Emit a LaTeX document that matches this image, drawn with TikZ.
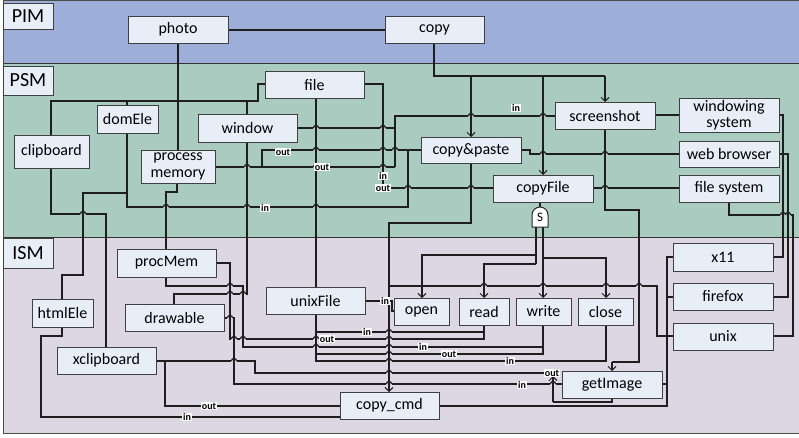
\documentclass[tikz,border=0pt]{standalone}
\usepackage{fontspec}
\setmainfont{Carlito}
\usetikzlibrary{arrows.meta}
\definecolor{pimc}{HTML}{9DAED8}
\definecolor{psmc}{HTML}{A9CBC0}
\definecolor{ismc}{HTML}{DDD6E3}
\definecolor{boxc}{HTML}{E8EEF8}
\definecolor{wirec}{HTML}{1E1E1E}
\newcommand\hpbase[3]{\fill[#3] (#1-2.9,#2-0.9) rectangle (#1+2.9,#2+0.9);
  \draw[wire] (#1,#2-2.2) -- (#1,#2+2.2);
  \draw[wire] (#1-2.6,#2) arc[start angle=180,end angle=360,radius=2.6];}
\newcommand\hp[2]{\hpbase{#1}{#2}{psmc}}
\newcommand\hpi[2]{\hpbase{#1}{#2}{ismc}}
\begin{document}
\begin{tikzpicture}[x=1pt,y=-1pt,
  box/.style={draw=black!75,fill=boxc,line width=0.9pt,inner sep=0pt,font=\fontsize{16}{16.5}\selectfont,align=center},
  band/.style={draw=black!75,fill=boxc,line width=0.9pt,inner sep=0pt,font=\fontsize{20}{20}\selectfont},
  wire/.style={draw=wirec,line width=1.2pt},
  thick wire/.style={draw=wirec,line width=2.1pt},
  arr/.style={-{Straight Barb[length=4pt,width=8pt,line width=1pt]}},
  lab/.style={fill=white,inner sep=0.8pt,font=\bfseries\fontsize{10}{10}\selectfont}]
\useasboundingbox (0,0) rectangle (799,437);
% bands
\fill[pimc] (3,0) rectangle (799,63);
\fill[psmc] (3,63) rectangle (799,237);
\fill[ismc] (3,237) rectangle (799,433);
\draw[black!80,line width=1pt] (3,63) -- (799,63) (3,237) -- (799,237);
\draw[black!70,line width=1pt] (3,0.5) -- (799,0.5) (3,0) -- (3,433) -- (799,433);
% ---------------- wires ----------------
% PIM
\draw[wire] (228,30) -- (385,30);
\draw[thick wire] (178,43) -- (178,101);
\draw[wire] (51,135) -- (51,101) -- (258,101) -- (258,84) -- (265,84);
\draw[wire] (127,101) -- (127,105);
\draw[wire] (178,101) -- (178,150);
\draw[wire] (247,101) -- (247,114);
\draw[thick wire] (434,43) -- (434,76) -- (605,76);
\draw[wire,arr] (605,76) -- (605,102);
\draw[wire,arr] (471,76) -- (471,137);
\draw[wire,arr] (543,76) -- (543,175);
% PSM
\draw[wire] (364,84) -- (383,84) -- (383,188) -- (493,188);
\draw[wire] (297,128) -- (395,128);
\draw[wire] (395,167) -- (395,116) -- (555,116);
\draw[wire] (215,167) -- (395,167);
\draw[wire] (262,167) -- (262,150) -- (421,150);
\draw[wire] (127,133) -- (127,207) -- (408,207) -- (408,150);
\draw[wire] (127,193) -- (83,193) -- (83,275) -- (62,275) -- (62,299);
\draw[wire] (51,168) -- (51,214) -- (106,214) -- (106,347);
\draw[wire] (177,183) -- (177,192) -- (166,192) -- (166,249);
\draw[wire] (316,98) -- (316,287);
\draw[wire] (471,163) -- (471,223) -- (389,223) -- (389,286) -- (657,286) -- (657,336) -- (673,336);
\draw[wire,arr] (389,286) -- (389,392);
\draw[wire] (540,202) -- (540,207);
\draw[wire] (536,227) -- (536,264);
\draw[wire,arr] (536,255) -- (422,255) -- (422,298);
\draw[wire,arr] (536,264) -- (484,264) -- (484,298);
\draw[wire,arr] (543,227) -- (543,298);
\draw[wire,arr] (543,258) -- (606,258) -- (606,298);
\draw[wire] (605,129) -- (605,210) -- (639,210) -- (639,362) -- (612,362);
\draw[wire,arr] (612,362) -- (612,371);
\draw[wire] (655,115) -- (679,115);
\draw[wire] (521,150) -- (530,150) -- (530,154) -- (679,154);
\draw[wire] (593,188) -- (679,188);
\draw[wire] (779,115) -- (783,115) -- (783,257) -- (773,257);
\draw[wire] (779,154) -- (788,154) -- (788,297) -- (773,297);
\draw[wire] (729,202) -- (729,215) -- (793,215) -- (793,336) -- (773,336);
\draw[wire] (673,257) -- (667,257) -- (667,406) -- (439,406);
\draw[wire] (673,297) -- (667,297);
\draw[wire] (662,384) -- (667,384);
% ISM
\draw[wire] (166,277) -- (166,286) -- (243,286) -- (243,347) -- (543,347);
\draw[wire] (174,304) -- (174,294) -- (247,294) -- (247,142);
\draw[wire] (216,263) -- (230,263) -- (230,339) -- (484,339) -- (484,325);
\draw[wire] (224,318) -- (234,318) -- (234,384) -- (562,384);
\draw[wire] (365,301) -- (392,301) -- (392,311) -- (394,311);
\draw[wire] (316,314) -- (316,361) -- (606,361) -- (606,325);
\draw[wire] (316,332) -- (484,332);
\draw[wire] (316,354) -- (543,354) -- (543,325);
\draw[wire] (156,361) -- (255,361) -- (255,373) -- (553,373);
\draw[wire] (612,398) -- (612,402) -- (553,402);
\draw[wire,arr] (553,402) -- (553,376);
\draw[wire] (165,361) -- (165,406) -- (340,406);
\draw[wire] (62,327) -- (62,336) -- (41,336) -- (41,417) -- (340,417);
% hops
\hp{316}{128}\hp{383}{128}\hp{316}{150}\hp{383}{150}\hp{395}{150}
\hp{247}{167}\hp{316}{167}\hp{383}{167}
\hp{166}{207}\hp{247}{207}\hp{316}{207}
\hp{83}{214}\hp{471}{116}\hp{543}{116}
\hp{408}{188}\hp{471}{188}\hp{543}{154}\hp{605}{154}\hp{605}{188}
\hp{788}{215}\hp{783}{215}
\hpi{484}{286}\hpi{543}{286}\hpi{606}{286}\hpi{639}{286}
\hpi{230}{286}\hpi{230}{294}\hpi{243}{294}\hpi{230}{318}
\hpi{234}{339}\hpi{243}{339}\hpi{316}{339}\hpi{389}{339}\hpi{389}{332}
\hpi{316}{347}\hpi{389}{347}\hpi{389}{354}\hpi{389}{361}
\hpi{234}{361}
\hpi{389}{373}\hpi{389}{384}\hpi{553}{384}
% ---------------- nodes ----------------
\node[band,minimum width=50,minimum height=26] (pim) at (28,16) {PIM};
\node[band,minimum width=50,minimum height=29] (psm) at (28,80.5) {PSM};
\node[band,minimum width=50,minimum height=30] (ism) at (28,253) {ISM};
\node[box,minimum width=100,minimum height=27] (photo) at (178,29.5) {photo};
\node[box,minimum width=99,minimum height=27] (copy) at (434.5,29.5) {copy};
\node[box,minimum width=99,minimum height=27] (file) at (314.5,84.5) {file};
\node[box,minimum width=61,minimum height=28] (domEle) at (127.5,119) {domEle};
\node[box,minimum width=99,minimum height=28] (window) at (247.5,128) {window};
\node[box,minimum width=75,minimum height=33] (clipboard) at (51.5,151.5) {clipboard};
\node[box,minimum width=74,minimum height=33] (procmem) at (178,166.5) {process\\memory};
\node[box,minimum width=100,minimum height=27] (screenshot) at (605,115.5) {screenshot};
\node[box,minimum width=100,minimum height=34] (windowing) at (729,115) {windowing\\system};
\node[box,minimum width=100,minimum height=26] (copypaste) at (471,150) {copy\&paste};
\node[box,minimum width=100,minimum height=26] (web) at (729,154) {web browser};
\node[box,minimum width=100,minimum height=27] (copyFile) at (543,188.5) {copyFile};
\node[box,minimum width=100,minimum height=27] (filesys) at (729,188.5) {file system};
\node[box,minimum width=99,minimum height=28] (procMem) at (166.5,263) {procMem};
\node[box,minimum width=61,minimum height=28] (htmlEle) at (62.5,313) {htmlEle};
\node[box,minimum width=99,minimum height=27] (drawable) at (174.5,317.5) {drawable};
\node[box,minimum width=99,minimum height=27] (unixFile) at (315.5,300.5) {unixFile};
\node[box,minimum width=55,minimum height=27] (open) at (421.5,311.5) {open};
\node[box,minimum width=50,minimum height=27] (read) at (484,311.5) {read};
\node[box,minimum width=55,minimum height=27] (write) at (543.5,311.5) {write};
\node[box,minimum width=55,minimum height=27] (close) at (605.5,311.5) {close};
\node[box,minimum width=100,minimum height=28] (x11) at (723,257) {x11};
\node[box,minimum width=100,minimum height=27] (firefox) at (723,296.5) {firefox};
\node[box,minimum width=100,minimum height=27] (unix) at (723,336.5) {unix};
\node[box,minimum width=99,minimum height=27] (xclip) at (106.5,360.5) {xclipboard};
\node[box,minimum width=99,minimum height=27] (copycmd) at (389.5,405.5) {copy\_cmd};
\node[box,minimum width=100,minimum height=27] (getImage) at (612,384.5) {getImage};
% S gate
\draw[draw=black!85,line width=1pt,fill=white] (532,227) -- (532,215) arc[start angle=180,end angle=360,radius=8] -- (548,227) -- cycle;
\node[inner sep=0pt,font=\fontsize{13}{13}\selectfont] (gate) at (540,217.5) {S};
% labels
\node[lab] at (516,108) {in};
\node[lab] at (283,152) {out};
\node[lab] at (322,167) {out};
\node[lab] at (383,176) {in};
\node[lab] at (383,188) {out};
\node[lab] at (265,208) {in};
\node[lab] at (385,301) {in};
\node[lab] at (367,332) {in};
\node[lab] at (327,339) {out};
\node[lab] at (423,347) {in};
\node[lab] at (449,354) {out};
\node[lab] at (510,361) {in};
\node[lab] at (552,373) {out};
\node[lab] at (522,385) {in};
\node[lab] at (209,406) {out};
\node[lab] at (187,417) {in};
\end{tikzpicture}
\end{document}
